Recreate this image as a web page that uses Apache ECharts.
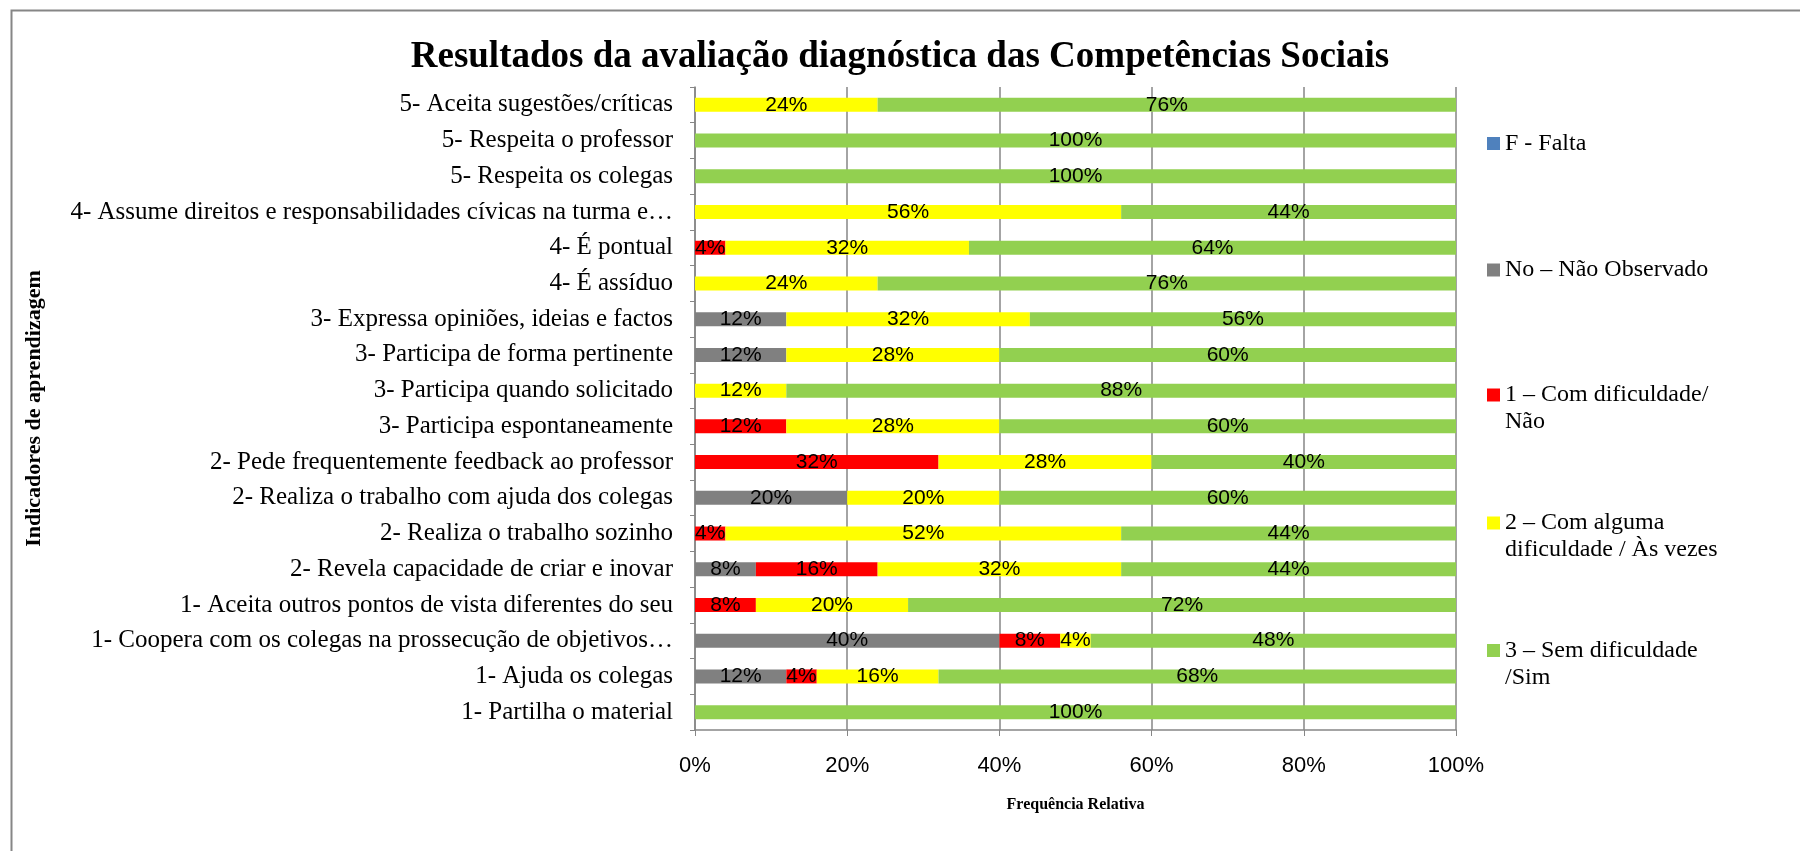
<!DOCTYPE html>
<html>
<head>
<meta charset="utf-8">
<script src="https://cdn.jsdelivr.net/npm/echarts@6/dist/echarts.min.js"></script>
<style>html,body{margin:0;padding:0;background:#fff}#c{width:1800px;height:851px}</style>
</head>
<body>
<div id="c"></div>
<script>
const categories = [
  '5- Aceita sugestões/críticas',
  '5- Respeita o professor',
  '5- Respeita os colegas',
  '4- Assume direitos e responsabilidades cívicas na turma e…',
  '4- É pontual',
  '4- É assíduo',
  '3- Expressa opiniões, ideias e factos',
  '3- Participa de forma pertinente',
  '3- Participa quando solicitado',
  '3- Participa espontaneamente',
  '2- Pede frequentemente feedback ao professor',
  '2- Realiza o trabalho com ajuda dos colegas',
  '2- Realiza o trabalho sozinho',
  '2- Revela capacidade de criar e inovar',
  '1- Aceita outros pontos de vista diferentes do seu',
  '1- Coopera com os colegas na prossecução de objetivos…',
  '1- Ajuda os colegas',
  '1- Partilha o material'
];
const falta       = [0,0,0,0,0,0,0,0,0,0,0,0,0,0,0,0,0,0];
const naoObservado= [0,0,0,0,0,0,12,12,0,0,0,20,0,8,0,40,12,0];
const comDific    = [0,0,0,0,4,0,0,0,0,12,32,0,4,16,8,8,4,0];
const algumaDific = [24,0,0,56,32,24,32,28,12,28,28,20,52,32,20,4,16,0];
const semDific    = [76,100,100,44,64,76,56,60,88,60,40,60,44,44,72,48,68,100];
const seriesNames = ['F - Falta','No – Não Observado','1 – Com dificuldade/\nNão','2 – Com alguma\ndificuldade / Às vezes','3 – Sem dificuldade\n/Sim'];
const seriesColors = ['#4F81BD','#808080','#FF0000','#FFFF00','#92D050'];
const seriesData = [falta, naoObservado, comDific, algumaDific, semDific];
const xTicks = [0,20,40,60,80,100];

const chart = echarts.init(document.getElementById('c'));
const serif = '"Liberation Serif","Times New Roman",serif';
const sans = '"Liberation Sans",Arial,sans-serif';

const LH = 27;
const legendTops = [130, 256.5, 354.5, 482.5, 610];
const legends = seriesNames.map((n, i) => ({
  show: true,
  data: [n],
  orient: 'vertical',
  left: 1487,
  top: legendTops[i],
  padding: 0,
  itemWidth: 13,
  itemHeight: 13,
  itemGap: 0,
  icon: 'rect',
  selectedMode: false,
  formatter: (name) => name.indexOf('\n') >= 0 ? '\n' + name : name,
  textStyle: {fontFamily: serif, fontSize: 24, color: '#000', lineHeight: LH}
}));

chart.setOption({
  animation: false,
  title: {
    text: 'Resultados da avaliação diagnóstica das Competências Sociais',
    left: 'center',
    top: 34,
    textStyle: {fontFamily: serif, fontSize: 37, fontWeight: 'bold', color: '#000'}
  },
  legend: legends,
  grid: {left: 695, right: 344, top: 87, bottom: 121, containLabel: false},
  xAxis: {
    type: 'value', min: 0, max: 100, interval: 20,
    name: 'Frequência Relativa', nameLocation: 'middle', nameGap: 67,
    nameTextStyle: {fontFamily: serif, fontSize: 16, fontWeight: 'bold', color: '#000'},
    axisLine: {show: true, lineStyle: {color: '#868686', width: 1.5}},
    axisTick: {show: true, length: 6, lineStyle: {color: '#868686'}},
    axisLabel: {formatter: v => xTicks.indexOf(v) >= 0 ? v + '%' : '', fontFamily: sans, fontSize: 22, color: '#000', margin: 25},
    splitLine: {show: true, lineStyle: {color: '#868686', width: 1.5}}
  },
  yAxis: {
    type: 'category', data: categories, inverse: true,
    name: 'Indicadores de aprendizagem', nameLocation: 'middle', nameGap: 650, nameRotate: 90,
    nameTextStyle: {fontFamily: serif, fontSize: 22, fontWeight: 'bold', color: '#000'},
    axisLine: {show: true, lineStyle: {color: '#868686', width: 1.5}},
    axisTick: {show: true, length: 5, lineStyle: {color: '#868686'}},
    axisLabel: {fontFamily: serif, fontSize: 25, color: '#000', margin: 22},
    splitLine: {show: false}
  },
  series: seriesData.map((d, i) => ({
    name: seriesNames[i],
    type: 'bar',
    stack: 'total',
    barWidth: 14,
    data: d,
    itemStyle: {color: seriesColors[i]},
    label: {
      show: true, position: 'inside', color: '#000', fontFamily: sans, fontSize: 21,
      formatter: p => p.value > 0 ? p.value + '%' : ''
    },
    labelLayout: {hideOverlap: false}
  })),
  graphic: [{
    type: 'rect', left: 9, top: 8, silent: true,
    shape: {width: 1900, height: 1000},
    style: {fill: 'none', stroke: '#868686', lineWidth: 2}
  }]
});
</script>
</body>
</html>
